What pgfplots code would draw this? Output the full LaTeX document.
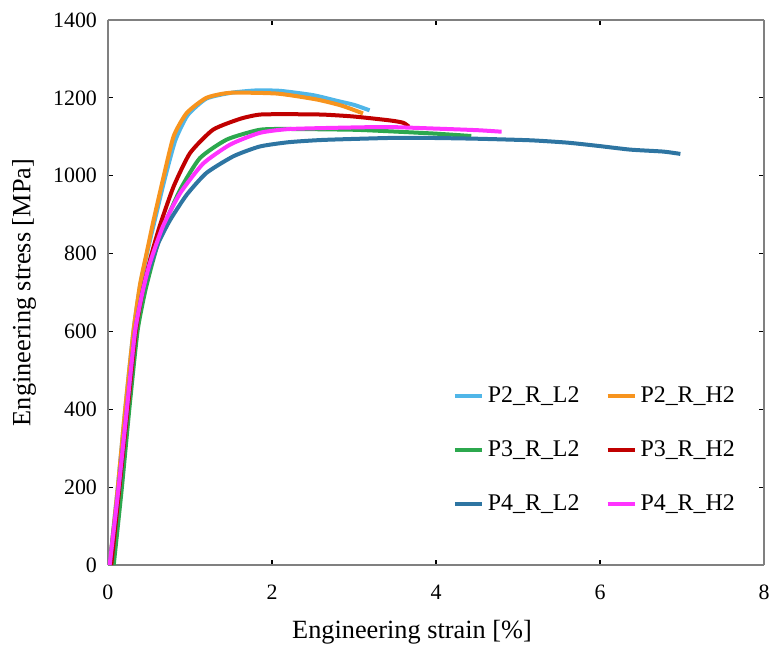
\documentclass[border=0pt]{standalone}
\usepackage{fontspec}
\setmainfont{Liberation Serif}
\usepackage{pgfplots}
\pgfplotsset{compat=1.18}

\definecolor{cLtBlue}{RGB}{80,182,232}
\definecolor{cOrange}{RGB}{247,148,30}
\definecolor{cGreen}{RGB}{44,168,78}
\definecolor{cRed}{RGB}{192,0,0}
\definecolor{cDkBlue}{RGB}{46,117,162}
\definecolor{cMagenta}{RGB}{255,51,255}

\begin{document}
\begin{tikzpicture}
\begin{axis}[
    scale only axis,
    width=328bp, height=272.5bp,
    xmin=0, xmax=8, ymin=0, ymax=1400,
    xtick={0,2,...,8}, ytick={0,200,...,1400},
    tick align=inside,
    major tick length=2.5bp,
    tick style={black, line width=0.6bp},
    axis line style={line width=0.6bp},
    separate axis lines,
    x axis line style={black},
    y axis line style={black},
    every outer x axis line/.append style={gray},
    every outer y axis line/.append style={gray},
    tick label style={font=\fontsize{11}{13}\selectfont},
    /pgf/number format/assume math mode=true,
    /pgf/number format/1000 sep={},
    xticklabel style={yshift=-6.5bp},
    yticklabel style={xshift=-2bp},
    xlabel={Engineering strain [\%]},
    ylabel={Engineering stress [MPa]},
    label style={font=\fontsize{13.2}{15}\selectfont},
    xlabel style={at={(axis description cs:0.4634,-0.123)}, anchor=center},
    ylabel style={at={(axis description cs:-0.128,0.5)}, anchor=center},
    clip=false,
    legend columns=2,
    legend style={draw=none, fill=none, at={(axis description cs:0.516,0.342)}, anchor=north west,
        font=\fontsize{12}{14}\selectfont, row sep=13.5bp, column sep=11bp,
        /tikz/every odd column/.append style={column sep=0bp}},
    legend cell align=left,
    legend image code/.code={\draw[#1] (0bp,0bp) -- (13.5bp,0bp);},
    every axis plot/.append style={line width=2bp, smooth, tension=0.35},
]
\coordinate (bbSW) at (axis description cs:-0.1646,-0.1486);
\coordinate (bbNE) at (axis description cs:1.0076,1.0367);
\addplot[cLtBlue] coordinates {
  (0.02,0) (0.12,200) (0.21,400) (0.31,600) (0.39,715) (0.48,805) (0.57,885) (0.69,990)
  (0.82,1090) (0.97,1155) (1.2,1198) (1.5,1213) (1.8,1219) (2.1,1218) (2.5,1207) (2.8,1192)
  (3.0,1182) (3.19,1168)
};
\addlegendentry{P2\_R\_L2}
\addplot[cOrange] coordinates {
  (0.02,0) (0.12,200) (0.21,400) (0.31,600) (0.39,720) (0.47,800) (0.55,880) (0.67,990)
  (0.80,1101) (0.96,1161) (1.2,1200) (1.49,1213) (2.06,1211) (2.54,1196) (2.85,1180) (3.11,1160)
};
\addlegendentry{P2\_R\_H2}
\addplot[cGreen] coordinates {
  (0.07,0) (0.17,200) (0.26,400) (0.36,600) (0.45,700) (0.54,775) (0.66,860) (0.88,964)
  (1.12,1045) (1.45,1093) (1.85,1118) (2.22,1120) (3.0,1118) (3.44,1114) (4.0,1108) (4.43,1102)
};
\addlegendentry{P3\_R\_L2}
\addplot[cRed] coordinates {
  (0.04,0) (0.14,200) (0.24,400) (0.34,600) (0.43,710) (0.52,790) (0.63,870) (0.80,972)
  (1.0,1058) (1.28,1118) (1.61,1146) (1.85,1157) (2.2,1158) (2.62,1157) (3.0,1152) (3.44,1142)
  (3.6,1136) (3.67,1126)
};
\addlegendentry{P3\_R\_H2}
\addplot[cDkBlue] coordinates {
  (0.02,0) (0.13,200) (0.23,400) (0.33,600) (0.42,700) (0.51,765) (0.62,830) (0.76,887)
  (0.96,951) (1.2,1007) (1.53,1050) (1.85,1075) (2.2,1086) (2.63,1092) (3.44,1097) (3.93,1097)
  (4.5,1095) (5.15,1091) (5.6,1085) (5.96,1077) (6.37,1067) (6.77,1062) (6.98,1056)
};
\addlegendentry{P4\_R\_L2}
\addplot[cMagenta] coordinates {
  (0.02,0) (0.13,200) (0.23,400) (0.33,600) (0.42,700) (0.51,775) (0.67,870) (0.88,955)
  (1.16,1031) (1.49,1080) (1.85,1110) (2.22,1120) (3.0,1124) (3.44,1125) (4.0,1121) (4.5,1117)
  (4.8,1113)
};
\addlegendentry{P4\_R\_H2}
\end{axis}
\pgfresetboundingbox
\path[use as bounding box] (bbSW) rectangle (bbNE);
\end{tikzpicture}
\end{document}
